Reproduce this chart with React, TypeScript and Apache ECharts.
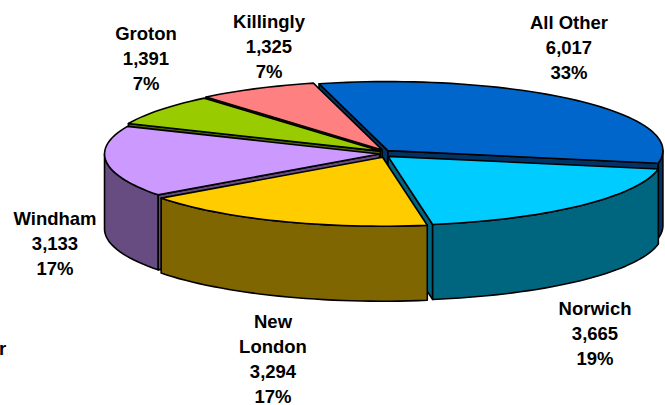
import React, { useEffect, useRef } from "react";
import * as echarts from "echarts";

const categories = ["All Other", "Norwich", "New London", "Windham", "Groton", "Killingly"];
const values = [6017, 3665, 3294, 3133, 1391, 1325];
const percents = ["33%", "19%", "17%", "17%", "7%", "7%"];
const topColors = ["#0066CC", "#00CCFF", "#FFCC00", "#CC99FF", "#99CC00", "#FF8080"];
const sideColors = ["#003366", "#006680", "#806600", "#664C80", "#4C6600", "#804040"];
const paintOrder = [0, 5, 4, 3, 1, 2];
const startDeg = -14.5;

const CX = 384.5, CY = 153.5, RX = 275, RY = 69, DEPTH = 75, EXPLODE_X = 5, EXPLODE_Y = 4;
const FONT = "Liberation Sans";
const FONT_SIZE = 18.5;
const LINE_STEP = 25;

const labelLines: Record<string, string[]> = {
  "All Other": ["All Other"],
  Norwich: ["Norwich"],
  "New London": ["New", "London"],
  Windham: ["Windham"],
  Groton: ["Groton"],
  Killingly: ["Killingly"],
};
const labelAnchors: Record<string, [number, number]> = {
  "All Other": [569, 22],
  Norwich: [595, 308],
  "New London": [273, 321],
  Windham: [55, 218],
  Groton: [146, 33],
  Killingly: [269, 21],
};

export default function App() {
  const ref = useRef<HTMLDivElement>(null);
  useEffect(() => {
    const chart = echarts.init(ref.current!, undefined, { renderer: "svg" });
    const total = values.reduce((a, b) => a + b, 0);
    let acc = 0;
    const cum = values.map((v) => {
      const s = acc;
      acc += v;
      return s;
    });
    const data = paintOrder.map((i) => ({ value: [values[i], cum[i], i], name: categories[i] }));

    const renderItem = (_p: any, api: any) => {
      const idx = api.value(2);
      const a0 = startDeg + (api.value(1) / total) * 360;
      const a1 = a0 + (api.value(0) / total) * 360;
      const mid = ((a0 + a1) / 2) * (Math.PI / 180);
      const ox = CX + EXPLODE_X * Math.sin(mid);
      const oy = CY - EXPLODE_Y * Math.cos(mid);
      const pt = (deg: number): number[] => {
        const t = (deg * Math.PI) / 180;
        return [ox + RX * Math.sin(t), oy - RY * Math.cos(t)];
      };
      const arc = (from: number, to: number) => {
        const out: number[][] = [];
        const n = Math.max(2, Math.ceil((to - from) / 2));
        for (let k = 0; k <= n; k++) out.push(pt(from + ((to - from) * k) / n));
        return out;
      };
      const down = (p: number[]) => [p[0], p[1] + DEPTH];
      const common = { stroke: "#000", lineWidth: 1.6, lineJoin: "round" };
      const side = { ...common, fill: sideColors[idx] };
      const children: any[] = [];
      const apex = [ox, oy];
      const face = (deg: number) => {
        const r = pt(deg);
        children.push({
          type: "polygon",
          shape: { points: [apex, r, down(r), down(apex)] },
          style: side,
        });
      };
      if (Math.cos(((a0 - 90) * Math.PI) / 180) < 0) face(a0);
      if (Math.cos(((a1 + 90) * Math.PI) / 180) < 0) face(a1);
      for (const [lo, hi] of [[90, 270], [450, 630]]) {
        const from = Math.max(a0, lo);
        const to = Math.min(a1, hi);
        if (to > from) {
          const top = arc(from, to);
          children.push({
            type: "polygon",
            shape: { points: [...top, ...top.slice().reverse().map(down)] },
            style: side,
          });
        }
      }
      children.push({
        type: "polygon",
        shape: { points: [apex, ...arc(a0, a1)] },
        style: { ...common, fill: topColors[idx] },
      });
      return { type: "group", children };
    };

    const labelTexts = categories.flatMap((c, i) =>
      [...labelLines[c], values[i].toLocaleString("en-US"), percents[i]].map((line, k) => ({
        type: "text",
        x: labelAnchors[c][0],
        y: labelAnchors[c][1] + k * LINE_STEP,
        style: {
          text: line,
          font: `bold ${FONT_SIZE}px "${FONT}"`,
          fill: "#000",
          align: "center",
          verticalAlign: "middle",
        },
      }))
    );

    chart.setOption({
      animation: false,
      series: [
        {
          type: "custom",
          coordinateSystem: "none",
          renderItem,
          data,
          silent: true,
        },
      ],
      graphic: [
        ...labelTexts,
        {
          type: "text",
          x: -1,
          y: 348,
          style: {
            text: "r",
            font: `bold ${FONT_SIZE}px "${FONT}"`,
            fill: "#000",
            verticalAlign: "middle",
          },
        },
      ],
    });
    return () => chart.dispose();
  }, []);
  return (
    <div
      ref={ref}
      style={{ position: "fixed", left: 0, top: 0, width: 665, height: 405, background: "#fff" }}
    />
  );
}
